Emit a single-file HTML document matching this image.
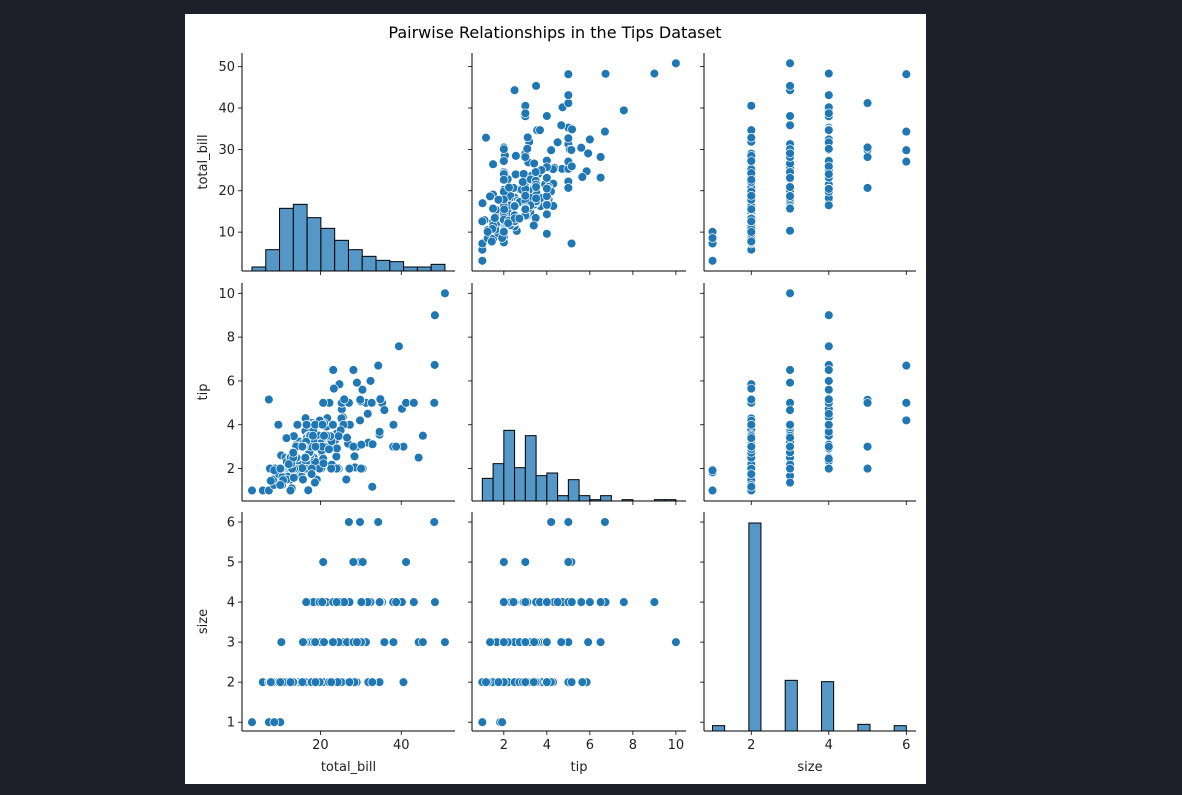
<!DOCTYPE html>
<html><head><meta charset="utf-8"><style>
html,body{margin:0;padding:0;background:#1d202a;}
svg{display:block;font-family:"DejaVu Sans","Liberation Sans",sans-serif;}
</style></head><body>
<svg id="fig" width="1182" height="795" viewBox="0 0 1182 795">
<rect x="0" y="0" width="1182" height="795" fill="#1d202a"/>
<rect x="185" y="14" width="741" height="770" fill="#ffffff"/>
<text x="555" y="38" text-anchor="middle" font-size="16" fill="#000">Pairwise Relationships in the Tips Dataset</text>
<g id="plots"></g>
</svg>
<script>
const totalBill=[16.99,10.34,21.01,23.68,24.59,25.29,8.77,26.88,15.04,14.78,10.27,35.26,15.42,18.43,14.83,21.58,10.33,16.29,16.97,20.65,17.92,20.29,15.77,39.42,19.82,17.81,13.37,12.69,21.7,19.65,9.55,18.35,15.06,20.69,17.78,24.06,16.31,16.93,18.69,31.27,16.04,17.46,13.94,9.68,30.4,18.29,22.23,32.4,28.55,18.04,12.54,10.29,34.81,9.94,25.56,19.49,38.01,26.41,11.24,48.27,20.29,13.81,11.02,18.29,17.59,20.08,16.45,3.07,20.23,15.01,12.02,17.07,26.86,25.28,14.73,10.51,17.92,27.2,22.76,17.29,19.44,16.66,10.07,32.68,15.98,34.83,13.03,18.28,24.71,21.16,28.97,22.49,5.75,16.32,22.75,40.17,27.28,12.03,21.01,12.46,11.35,15.38,44.3,22.42,20.92,15.36,20.49,25.21,18.24,14.31,14.0,7.25,38.07,23.95,25.71,17.31,29.93,10.65,12.43,24.08,11.69,13.42,14.26,15.95,12.48,29.8,8.52,14.52,11.38,22.82,19.08,20.27,11.17,12.26,18.26,8.51,10.33,14.15,16.0,13.16,17.47,34.3,41.19,27.05,16.43,8.35,18.64,11.87,9.78,7.51,14.07,13.13,17.26,24.55,19.77,29.85,48.17,25.0,13.39,16.49,21.5,12.66,16.21,13.81,17.51,24.52,20.76,31.71,10.59,10.63,50.81,15.81,7.25,31.85,16.82,32.9,17.89,14.48,9.6,34.63,34.65,23.33,45.35,23.17,40.55,20.69,20.9,30.46,18.15,23.1,15.69,19.81,28.44,15.48,16.58,7.56,10.34,43.11,13.0,13.51,18.71,12.74,13.0,16.4,20.53,16.47,26.59,38.73,24.27,12.76,30.06,25.89,48.33,13.27,28.17,12.9,28.15,11.59,7.74,30.14,12.16,13.42,8.58,15.98,13.42,16.27,10.09,20.45,13.28,22.12,24.01,15.69,11.61,10.77,15.53,10.07,12.6,32.83,35.83,29.03,27.18,22.67,17.82,18.78];
const tipValues=[1.01,1.66,3.5,3.31,3.61,4.71,2.0,3.12,1.96,3.23,1.71,5.0,1.57,3.0,3.02,3.92,1.67,3.71,3.5,3.35,4.08,2.75,2.23,7.58,3.18,2.34,2.0,2.0,4.3,3.0,1.45,2.5,3.0,2.45,3.27,3.6,2.0,3.07,2.31,5.0,2.24,2.54,3.06,1.32,5.6,3.0,5.0,6.0,2.05,3.0,2.5,2.6,5.2,1.56,4.34,3.51,3.0,1.5,1.76,6.73,3.21,2.0,1.98,3.76,2.64,3.15,2.47,1.0,2.01,2.09,1.97,3.0,3.14,5.0,2.2,1.25,3.08,4.0,3.0,2.71,3.0,3.4,1.83,5.0,2.03,5.17,2.0,4.0,5.85,3.0,3.0,3.5,1.0,4.3,3.25,4.73,4.0,1.5,3.0,1.5,2.5,3.0,2.5,3.48,4.08,1.64,4.06,4.29,3.76,4.0,3.0,1.0,4.0,2.55,4.0,3.5,5.07,1.5,1.8,2.92,2.31,1.68,2.5,2.0,2.52,4.2,1.48,2.0,2.0,2.18,1.5,2.83,1.5,2.0,3.25,1.25,2.0,2.0,2.0,2.75,3.5,6.7,5.0,5.0,2.3,1.5,1.36,1.63,1.73,2.0,2.5,2.0,2.74,2.0,2.0,5.14,5.0,3.75,2.61,2.0,3.5,2.5,2.0,2.0,3.0,3.48,2.24,4.5,1.61,2.0,10.0,3.16,5.15,3.18,4.0,3.11,2.0,2.0,4.0,3.55,3.68,5.65,3.5,6.5,3.0,5.0,3.5,2.0,3.5,4.0,1.5,4.19,2.56,2.02,4.0,1.44,2.0,5.0,2.0,2.0,4.0,2.01,2.0,2.5,4.0,3.23,3.41,3.0,2.03,2.23,2.0,5.16,9.0,2.5,6.5,1.1,3.0,1.5,1.44,3.09,2.2,3.48,1.92,3.0,1.58,2.5,2.0,3.0,2.72,2.88,2.0,3.0,3.39,1.47,3.0,1.25,1.0,1.17,4.67,5.92,2.0,2.0,1.75,3.0];
const partySize=[2,3,3,2,4,4,2,4,2,2,2,4,2,4,2,2,3,3,3,3,2,2,2,4,2,4,2,2,2,2,2,4,2,4,2,3,3,3,3,3,3,2,2,2,4,2,2,4,3,2,2,2,4,2,4,2,4,2,2,4,2,2,2,4,3,3,2,1,2,2,2,3,2,2,2,2,2,4,2,2,2,2,1,2,2,4,2,2,2,2,2,2,2,2,2,4,2,2,2,2,2,2,3,2,2,2,2,2,2,2,2,1,3,2,3,2,4,2,2,4,2,2,2,2,2,6,2,2,2,3,2,2,2,2,2,2,2,2,2,2,2,6,5,6,2,2,3,2,2,2,2,2,3,4,4,5,6,4,2,4,4,2,3,2,2,3,2,4,2,2,3,2,2,2,2,2,2,2,2,2,4,2,3,4,2,5,3,5,3,3,2,2,2,2,2,2,2,4,2,2,3,2,2,2,4,3,3,4,2,2,3,4,4,2,3,2,5,2,2,4,2,2,1,3,2,2,2,4,2,2,4,3,2,2,2,2,2,2,3,3,2,2,2,2];
const totalBillCounts=[3,16,47,50,40,32,23,16,11,8,7,3,3,5];
const tipCounts=[17,28,53,25,49,19,21,4,16,4,1,4,0,1,0,0,1,1];
const sizeCounts=[4,0,0,156,0,0,38,0,0,37,0,0,5,0,0,4];
const varNames=["total_bill","tip","size"];
const xTicks=[[20,40],[2,4,6,8,10],[2,4,6]];
const yTicks=[[10,20,30,40,50],[2,4,6,8,10],[1,2,3,4,5,6]];
const ranges=[[0.6,53.3],[0.52,10.47],[0.78,6.25]];

const NS="http://www.w3.org/2000/svg";
const colPix=[[242,455],[472,686],[704,916]];
const rowPix=[[53,271],[283,501],[512,731]];
const cols=[totalBill,tipValues,partySize];
function xs(c,v){const r=ranges[c],p=colPix[c];return p[0]+(v-r[0])/(r[1]-r[0])*(p[1]-p[0]);}
function ys(r,v){const g=ranges[r],p=rowPix[r];return p[1]-(v-g[0])/(g[1]-g[0])*(p[1]-p[0]);}
const root=document.getElementById('plots');
function mk(tag,attrs,parent){const e=document.createElementNS(NS,tag);for(const k in attrs)e.setAttribute(k,attrs[k]);(parent||root).appendChild(e);return e;}
const countScale=208/156;
const hists=[{counts:totalBillCounts,lo:3.07,hi:50.81},{counts:tipCounts,lo:1,hi:10},{counts:sizeCounts,lo:1,hi:6}];
for(let r=0;r<3;r++){for(let c=0;c<3;c++){
  const g=mk('g',{});
  
  
  const x0=colPix[c][0],x1=colPix[c][1],y0=rowPix[r][0],y1=rowPix[r][1];
  if(r===c){
    const h=hists[c],w=(h.hi-h.lo)/h.counts.length;
    h.counts.forEach((n,i)=>{ if(n<=0) return;
      const a=xs(c,h.lo+i*w),b=xs(c,h.lo+(i+1)*w),ht=n*countScale;
      const bar=mk('rect',{x:a,y:y1-ht,width:b-a,height:ht,fill:'#5597c7',stroke:'#000','stroke-width':1},g);
      
      
    });
  } else {
    const xv=cols[c],yv=cols[r];
    for(let i=0;i<xv.length;i++){
      const p=mk('circle',{cx:xs(c,xv[i]),cy:ys(r,yv[i]),r:4.4,fill:'#1f77b4',stroke:'#fff','stroke-width':0.7},g);
      
      
    }
  }
  mk('line',{x1:x0,y1:y0,x2:x0,y2:y1,stroke:'#000','stroke-width':1},g);
  mk('line',{x1:x0,y1:y1,x2:x1,y2:y1,stroke:'#000','stroke-width':1},g);
  xTicks[c].forEach(t=>{const x=xs(c,t);mk('line',{x1:x,y1:y1,x2:x,y2:y1+4,stroke:'#000','stroke-width':0.8},g);
    if(r===2){const tl=mk('text',{x:x,y:y1+18,'text-anchor':'middle','font-size':13,fill:'#222'},g);tl.textContent=t;
      
      }});
  yTicks[r].forEach(t=>{const y=ys(r,t);mk('line',{x1:x0,y1:y,x2:x0-4,y2:y,stroke:'#000','stroke-width':0.8},g);
    if(c===0){const tl=mk('text',{x:x0-7,y:y+4.5,'text-anchor':'end','font-size':13,fill:'#222'},g);tl.textContent=t;
      
      }});
}}
for(let c=0;c<3;c++){const t=mk('text',{x:(colPix[c][0]+colPix[c][1])/2,y:771,'text-anchor':'middle','font-size':13,fill:'#222'});t.textContent=varNames[c];
  
  }
for(let r=0;r<3;r++){const cy=(rowPix[r][0]+rowPix[r][1])/2;const t=mk('text',{x:0,y:0,'text-anchor':'middle','font-size':13,fill:'#222',transform:'translate(207,'+cy+') rotate(-90)'});t.textContent=varNames[r];
  
  }
</script>
</body></html>
